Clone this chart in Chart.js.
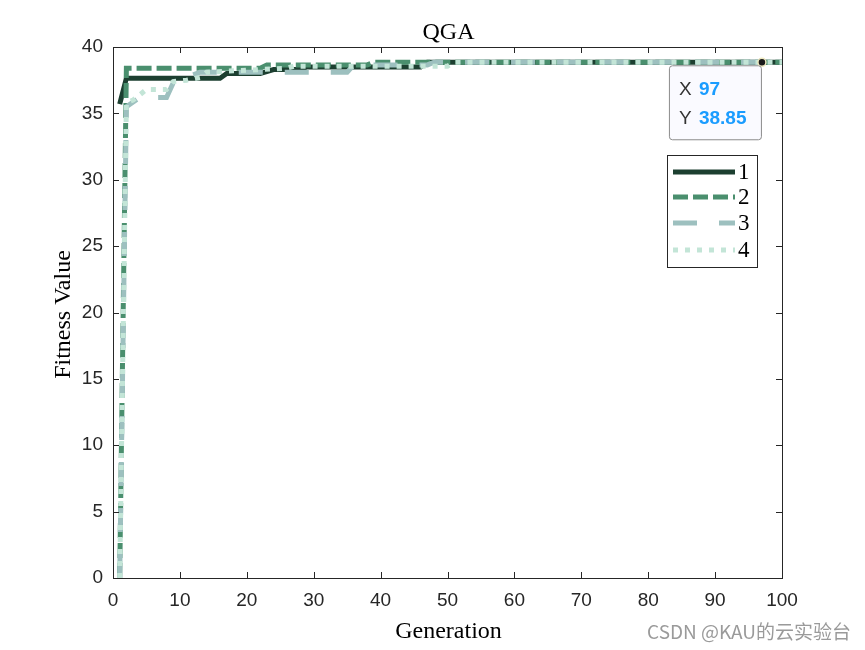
<!DOCTYPE html>
<html>
<head>
<meta charset="utf-8">
<script src="https://cdn.jsdelivr.net/npm/chart.js@4/dist/chart.umd.min.js"></script>
<style>
  body { margin: 0; background: #fff; }
  #wrap { width: 865px; height: 650px; }
</style>
</head>
<body>
<div id="wrap"><canvas id="chart" width="865" height="650"></canvas></div>
<script>
// --- dados (pontos de mudança de cada curva) ---
const gen1 = [1, 2, 16, 17, 22, 24, 28, 29, 46, 47, 100];
const fit1 = [35.7, 37.65, 37.65, 38.0, 38.0, 38.3, 38.3, 38.5, 38.5, 38.85, 38.85];

const gen2 = [1, 2, 22, 23, 38, 39, 100];
const fit2 = [0, 38.4, 38.4, 38.65, 38.65, 38.85, 38.85];

const gen3 = [1, 2, 4, 8, 9, 11, 13, 35, 36, 47, 48, 100];
const fit3 = [0, 35.5, 36.2, 36.2, 37.3, 37.7, 38.1, 38.1, 38.65, 38.65, 38.85, 38.85];

const gen4 = [1, 2, 3, 5, 8, 9, 11, 13, 14, 26, 27, 50, 51, 100];
const fit4 = [0, 35.8, 36.0, 36.8, 36.8, 37.4, 37.5, 37.7, 38.1, 38.4, 38.55, 38.55, 38.85, 38.85];

const serieNomes = ["1", "2", "3", "4"];
const serieCores = ["#1c3f30", "#4a8f6e", "#9dc0bf", "#c3e5d7"];
const serieDash = [[], [15, 5], [24, 22], [5, 7]];

const xTicks = [0, 10, 20, 30, 40, 50, 60, 70, 80, 90, 100];
const yTicks = [0, 5, 10, 15, 20, 25, 30, 35, 40];

const dicaX = 97;
const dicaY = 38.85;

const corEixo = "#262626";
const fonteSerif = "'Liberation Serif', 'Times New Roman', serif";
const fonteSans = "'Liberation Sans', Arial, sans-serif";

function pontos(g, f) {
  return g.map((x, i) => ({ x: x, y: f[i] }));
}

const series = [pontos(gen1, fit1), pontos(gen2, fit2), pontos(gen3, fit3), pontos(gen4, fit4)];

const datasets = series.map((d, i) => ({
  label: serieNomes[i],
  data: d,
  borderColor: serieCores[i],
  borderWidth: 5,
  borderDash: serieDash[i],
  borderCapStyle: "butt",
  pointRadius: 0,
  tension: 0,
  fill: false,
  order: 3 - i
}));

// marcador do datatip
datasets.push({
  type: "scatter",
  label: "tip",
  data: [{ x: dicaX, y: dicaY }],
  pointRadius: 4,
  pointBackgroundColor: "#1a1a1a",
  pointBorderColor: "#efe9c0",
  pointBorderWidth: 1.5,
  order: -1
});

// plugin para caixa, ticks internos, textos, legenda e datatip (estilo MATLAB)
const estiloMatlab = {
  id: "estiloMatlab",
  afterDraw(chart) {
    const { ctx, chartArea: a, scales } = chart;
    const sx = scales.x, sy = scales.y;
    ctx.save();

    // caixa
    ctx.strokeStyle = corEixo;
    ctx.lineWidth = 1;
    ctx.strokeRect(a.left + 0.5, a.top + 0.5, a.right - a.left, a.bottom - a.top);

    // ticks para dentro
    const tl = 6;
    ctx.beginPath();
    xTicks.forEach(v => {
      const px = Math.round(sx.getPixelForValue(v)) + 0.5;
      ctx.moveTo(px, a.bottom); ctx.lineTo(px, a.bottom - tl);
      ctx.moveTo(px, a.top); ctx.lineTo(px, a.top + tl);
    });
    yTicks.forEach(v => {
      const py = Math.round(sy.getPixelForValue(v)) + 0.5;
      ctx.moveTo(a.left, py); ctx.lineTo(a.left + tl, py);
      ctx.moveTo(a.right, py); ctx.lineTo(a.right - tl, py);
    });
    ctx.stroke();

    // titulo e rotulos dos eixos
    const cx = (a.left + a.right) / 2;
    ctx.fillStyle = "#000";
    ctx.font = "24px " + fonteSerif;
    ctx.textAlign = "center";
    ctx.textBaseline = "alphabetic";
    ctx.fillText("QGA", cx + 1, 39);
    ctx.fillText("Generation", cx + 1, 638);
    ctx.save();
    ctx.translate(70, (a.top + a.bottom) / 2 + 2);
    ctx.rotate(-Math.PI / 2);
    ctx.fillText("Fitness Value", 0, 0);
    ctx.restore();

    // legenda
    const lx = 667, ly = 155, lw = 90, lh = 112;
    ctx.fillStyle = "#fff";
    ctx.fillRect(lx, ly, lw, lh);
    ctx.strokeStyle = corEixo;
    ctx.lineWidth = 1;
    ctx.strokeRect(lx + 0.5, ly + 0.5, lw, lh);
    const linhasY = [172, 197, 223, 250];
    serieNomes.forEach((n, i) => {
      ctx.beginPath();
      ctx.strokeStyle = serieCores[i];
      ctx.lineWidth = 5;
      ctx.lineCap = "butt";
      ctx.setLineDash(serieDash[i]);
      ctx.moveTo(673, linhasY[i]);
      ctx.lineTo(735, linhasY[i]);
      ctx.stroke();
      ctx.setLineDash([]);
      ctx.fillStyle = "#000";
      ctx.font = "23px " + fonteSerif;
      ctx.textAlign = "left";
      ctx.textBaseline = "middle";
      ctx.fillText(n, 738, linhasY[i] + 1);
    });

    // datatip
    const px = sx.getPixelForValue(dicaX), py = sy.getPixelForValue(dicaY);
    const bw = 92, bh = 74, bx = px - bw - 1, by = py + 3;
    ctx.beginPath();
    ctx.roundRect(bx + 0.5, by + 0.5, bw, bh, 3);
    ctx.fillStyle = "#fafaff";
    ctx.fill();
    ctx.strokeStyle = "#8c8c8c";
    ctx.lineWidth = 1;
    ctx.stroke();
    ctx.textBaseline = "middle";
    ctx.textAlign = "left";
    ctx.font = "19px " + fonteSans;
    ctx.fillStyle = "#333";
    ctx.fillText("X", bx + 10, by + 24);
    ctx.fillText("Y", bx + 10, by + 53);
    ctx.font = "bold 19px " + fonteSans;
    ctx.fillStyle = "#1a9cff";
    ctx.fillText(String(dicaX), bx + 30, by + 24);
    ctx.fillText(dicaY.toFixed(2), bx + 30, by + 53);

    // marca d'agua
    ctx.font = "19px 'Noto Sans CJK SC', 'Liberation Sans', sans-serif";
    ctx.fillStyle = "#9a9a9a";
    ctx.textAlign = "right";
    ctx.textBaseline = "alphabetic";
    ctx.fillText("CSDN @KAU的云实验台", 851, 639);

    ctx.restore();
  }
};

const ctx = document.getElementById("chart").getContext("2d");
window.myChart = new Chart(ctx, {
  type: "line",
  data: { datasets: datasets },
  options: {
    responsive: false,
    animation: false,
    layout: { padding: { top: 47, right: 83, left: 0, bottom: 0 } },
    plugins: { legend: { display: false }, tooltip: { enabled: false }, title: { display: false } },
    scales: {
      x: {
        type: "linear", min: 0, max: 100,
        afterFit: s => { s.height = 72; },
        afterBuildTicks: s => { s.ticks = xTicks.map(v => ({ value: v })); },
        grid: { display: false, drawTicks: false },
        border: { display: false },
        ticks: { padding: 11, color: corEixo, maxRotation: 0, font: { family: fonteSans, size: 19 } }
      },
      y: {
        type: "linear", min: 0, max: 40,
        afterFit: s => { s.width = 113; },
        afterBuildTicks: s => { s.ticks = yTicks.map(v => ({ value: v })); },
        grid: { display: false, drawTicks: false },
        border: { display: false },
        ticks: { padding: 10, color: corEixo, font: { family: fonteSans, size: 19 } }
      }
    }
  },
  plugins: [estiloMatlab]
});
</script>
</body>
</html>
